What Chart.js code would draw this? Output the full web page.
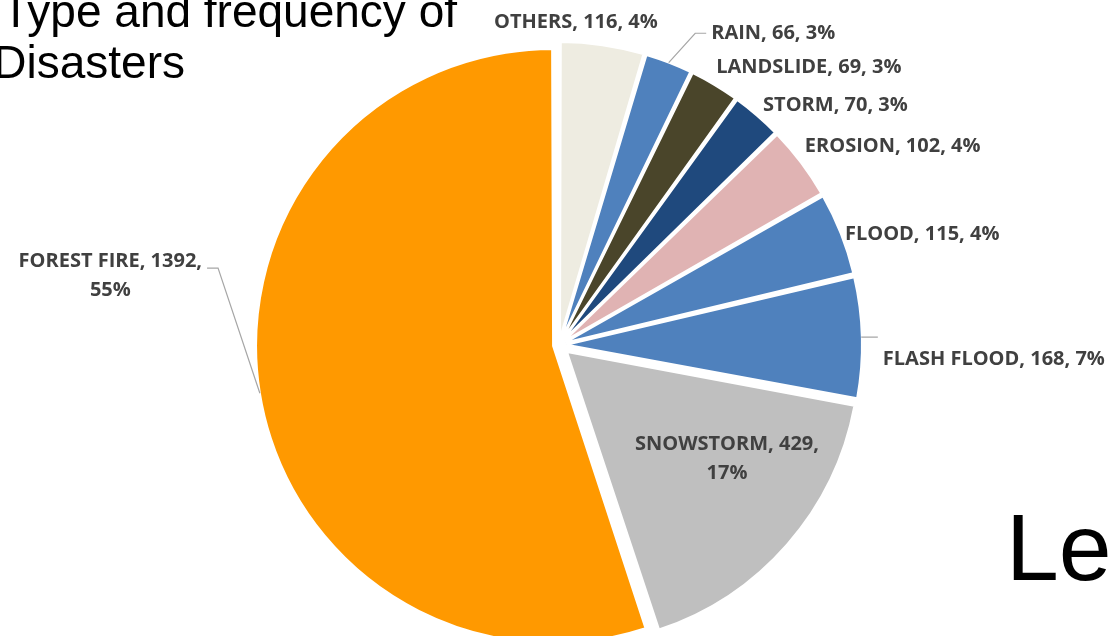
<!DOCTYPE html>
<html>
<head>
<meta charset="utf-8">
<script src="https://cdn.jsdelivr.net/npm/chart.js@4.4.1/dist/chart.umd.min.js"></script>
<style>
  html, body { margin: 0; padding: 0; background: #fff; overflow: hidden; }
  #wrap { position: relative; width: 1110px; height: 636px; overflow: hidden; }
  #box { position: absolute; left: 0; top: 0; width: 1110px; height: 636px; }
  .title { position: absolute; font-family: "Liberation Sans", Arial, sans-serif; font-size: 46px; color: #000; white-space: nowrap; line-height: 1; }
  .big { position: absolute; font-family: "Liberation Sans", Arial, sans-serif; font-size: 95px; color: #000; white-space: nowrap; line-height: 1; }
</style>
</head>
<body>
<div id="wrap">
  <div id="box"><canvas id="pie"></canvas></div>
  <div class="title" style="right:653px; top:-12px;">Type and frequency of</div>
  <div class="title" style="right:925px; top:39px;">Disasters</div>
  <div class="big" style="left:1006px; top:500px;">Le</div>
</div>
<script>
// disaster types, clockwise from 12 o'clock
const categories = ['OTHERS', 'RAIN', 'LANDSLIDE', 'STORM', 'EROSION', 'FLOOD', 'FLASH FLOOD', 'SNOWSTORM', 'FOREST FIRE'];
const counts = [116, 66, 69, 70, 102, 115, 168, 429, 1392];
const shares = ['4%', '3%', '3%', '3%', '4%', '4%', '7%', '17%', '55%'];

const sliceColors = ['#EEECE1', '#4F81BD', '#4A452A', '#1F497D', '#E0B3B3', '#4F81BD', '#4F81BD', '#BFBFBF', '#FF9900'];

// where each label sits: clock angle (deg) and distance as share of radius
const labelSpots = [
  { ang: 3.0,   rad: 1.111, align: 'center' },
  { ang: 23.6,  rad: 1.169, align: 'left', leader: true },
  { ang: 29.5,  rad: 1.097, align: 'left' },
  { ang: 40.4,  rad: 1.082, align: 'left' },
  { ang: 51.0,  rad: 1.087, align: 'left' },
  { ang: 68.8,  rad: 1.054, align: 'left' },
  { ang: 88.5,  rad: 1.041, align: 'left', leader: true, tail: 16, dy: 22 },
  { ang: 124.2, rad: 0.698, align: 'center', wrap: true },
  { ang: 282.7, rad: 1.201, align: 'right', leader: true, wrap: true }
];

const PIE_R = 291;
const PUSH = 12; // how far every slice is pulled out

const total = counts.reduce((a, b) => a + b, 0);

// chart.js moves an arc by offset/4*(1+fix), so undo that to get an even push
function sliceOffset(ctx) {
  const circ = ctx.dataset.data[ctx.dataIndex] / total * Math.PI * 2;
  const fix = 1 - Math.sin(Math.min(Math.PI, circ));
  return 4 * PUSH / (1 + fix);
}

const sliceLabels = {
  id: 'sliceLabels',
  afterDatasetsDraw(chart) {
    const ctx = chart.ctx;
    const arcs = chart.getDatasetMeta(0).data;
    ctx.save();
    ctx.font = 'bold 20px "Open Sans", sans-serif';
    ctx.fillStyle = '#404040';
    ctx.strokeStyle = '#A6A6A6';
    ctx.lineWidth = 1.2;
    ctx.textBaseline = 'middle';
    arcs.forEach((arc, i) => {
      const spot = labelSpots[i];
      const cx = arc.x, cy = arc.y;
      const R = arc.outerRadius;
      const a = (spot.ang - 90) * Math.PI / 180;
      let px = cx + Math.cos(a) * R * spot.rad;
      let py = cy + Math.sin(a) * R * spot.rad;
      let tx = px, ty = py;
      if (spot.leader) {
        const mid = (arc.startAngle + arc.endAngle) / 2;
        const ex = cx + Math.cos(mid) * (R + PUSH);
        const ey = cy + Math.sin(mid) * (R + PUSH);
        const dir = spot.align === 'right' ? -1 : 1;
        const hx = px + dir * (spot.tail || 11);
        ctx.beginPath();
        ctx.moveTo(ex, ey);
        ctx.lineTo(px, py);
        ctx.lineTo(hx, py);
        ctx.stroke();
        tx = hx + dir * 5;
      }
      ty += spot.dy || 0;
      let lines = [categories[i] + ', ' + counts[i] + ', ' + shares[i]];
      if (spot.wrap) lines = [categories[i] + ', ' + counts[i] + ',', shares[i]];
      if (lines.length > 1) {
        const w = ctx.measureText(lines[0]).width;
        if (spot.align === 'right') tx -= w / 2;
        if (spot.align === 'left') tx += w / 2;
        ctx.textAlign = 'center';
        if (spot.align !== 'center') ty += 8;
        lines.forEach((ln, k) => ctx.fillText(ln, tx, ty + (k - (lines.length - 1) / 2) * 29));
      } else {
        ctx.textAlign = spot.align;
        ctx.fillText(lines[0], tx, ty);
      }
    });
    ctx.restore();
  }
};

new Chart(document.getElementById('pie'), {
  type: 'pie',
  data: {
    labels: categories,
    datasets: [{
      data: counts,
      backgroundColor: sliceColors,
      borderColor: '#FFFFFF',
      borderWidth: 2,
      offset: sliceOffset
    }]
  },
  options: {
    responsive: true,
    maintainAspectRatio: false,
    animation: false,
    radius: PIE_R,
    layout: { padding: { left: 8, right: 0, top: 54, bottom: 0 } },
    plugins: {
      legend: { display: false },
      tooltip: { enabled: false }
    }
  },
  plugins: [sliceLabels]
});
</script>
</body>
</html>
